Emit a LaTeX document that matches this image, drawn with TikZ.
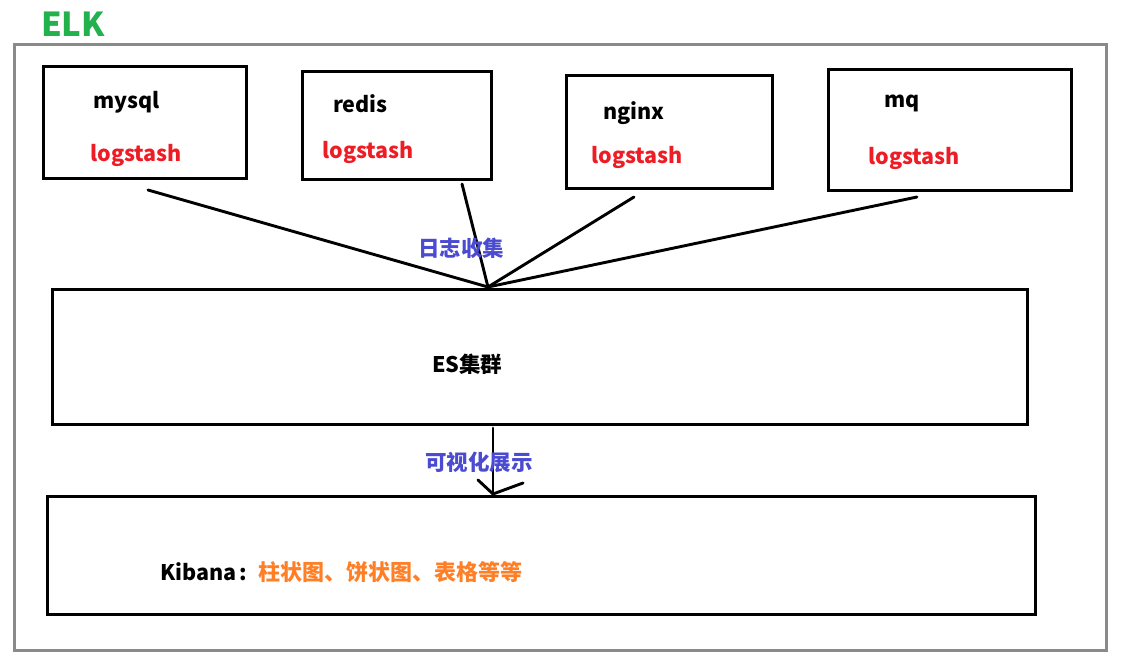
\documentclass[tikz,border=0pt]{standalone}
\usepackage{fontspec}
\setmainfont{Noto Sans CJK SC}
\definecolor{elkgreen}{HTML}{22B14C}
\definecolor{lsred}{HTML}{EE1C24}
\definecolor{lblue}{HTML}{4B4BD2}
\definecolor{korange}{HTML}{FF7F27}
\definecolor{framegray}{HTML}{8A8A8A}
\tikzset{
  srcbox/.style={draw=black, line width=3pt},
  bigbox/.style={draw=black, line width=3pt},
  lbl/.style={anchor=base west, inner sep=0pt, font=\fontsize{21.5}{25}\selectfont\bfseries},
  ls/.style={lbl, text=lsred},
  conn/.style={line width=2.9pt, line cap=round},
}
\begin{document}
\begin{tikzpicture}[x=1pt,y=-1pt]
\useasboundingbox (0,0) rectangle (1133,668);
% title and frame
\node[anchor=base west, inner sep=0pt, text=elkgreen, font=\fontsize{33}{36}\selectfont\bfseries] (elk) at (41,37) {ELK};
\draw[draw=framegray, line width=3pt] (14,45) rectangle (1106,650);
% source boxes
\draw[srcbox] (43,67) rectangle (246,179);
\draw[srcbox] (302,72) rectangle (491,180);
\draw[srcbox] (566,76) rectangle (772,189);
\draw[srcbox] (828,70) rectangle (1071,191);
\node[lbl] (mysql) at (93,109) {mysql};
\node[ls] (ls1) at (90,162) {logstash};
\node[lbl] (redis) at (333,113) {redis};
\node[ls] (ls2) at (322,159) {logstash};
\node[lbl] (nginx) at (603,120) {nginx};
\node[ls] (ls3) at (591,164) {logstash};
\node[lbl] (mq) at (884,108) {mq};
\node[ls] (ls4) at (868,165) {logstash};
% ES and Kibana
\draw[bigbox] (52,290) rectangle (1027,424);
\node[lbl] (es) at (432,373) {ES集群};
\draw[bigbox] (47,496) rectangle (1035,614);
\node[lbl] (kib) at (160,580) {Kibana\,:};
\node[lbl, text=korange, font=\fontsize{22}{25}\selectfont\bfseries] (kibcn) at (258,580) {柱状图、饼状图、表格等等};
% collection lines
\coordinate (hub) at (488,287);
\coordinate (s1) at (148,190);
\coordinate (s2) at (462,184);
\coordinate (s3) at (634,197);
\coordinate (s4) at (917,197);
\draw[conn] (s1) -- (hub);
\draw[conn] (s2) -- (hub);
\draw[conn] (s3) -- (hub);
\draw[conn] (s4) -- (hub);
\node[lbl, text=lblue] (collect) at (418,257) {日志收集};
% visualisation arrow
\coordinate (a0) at (493,428);
\coordinate (a1) at (493,494);
\coordinate (tl) at (478,480);
\coordinate (tr) at (523,483);
\draw[conn] (a0) -- (a1);
\draw[conn] (tl) -- (a1) -- (tr);
\node[lbl, text=lblue] (vis) at (425,470) {可视化展示};
\end{tikzpicture}
\end{document}
